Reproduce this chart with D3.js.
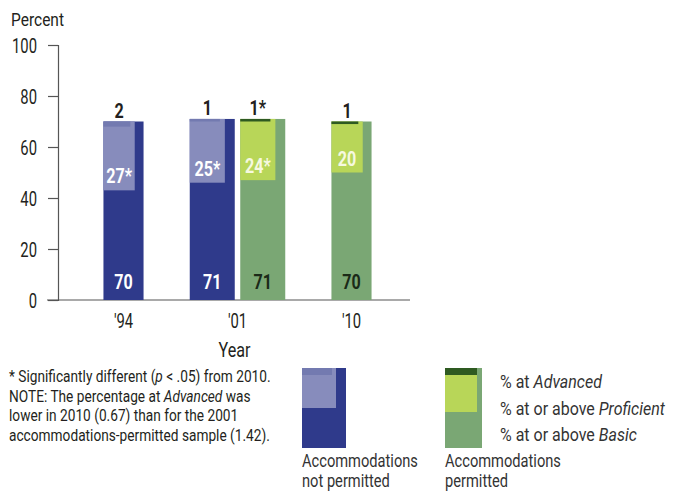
<!DOCTYPE html>
<html><head><meta charset="utf-8">
<script src="https://cdn.jsdelivr.net/npm/d3@7"></script>
<style>
html,body{margin:0;padding:0;background:#fff;}
text{font-family:"Roboto","Liberation Sans",sans-serif;fill:#231f20;}
</style></head>
<body><svg id="c" width="681" height="493"></svg>
<script>
const years = ["'94", "'01", "'10"];
// % at or above Basic
const basicNotPermitted = [70, 71, null];
const basicPermitted = [null, 71, 70];
// % at or above Proficient
const profNotPermitted = [27, 25, null];
const profPermitted = [null, 24, 20];
const profLabelNotPermitted = ["27*", "25*", null];
const profLabelPermitted = [null, "24*", "20"];
// % at Advanced
const advNotPermitted = [2, 1, null];
const advPermitted = [null, 1, 1];
const advLabelNotPermitted = ["2", "1", null];
const advLabelPermitted = [null, "1*", "1"];
const yTicks = [0, 20, 40, 60, 80, 100];

const colors = {
  notPermitted: {basic: "#2f3a8b", prof: "#878cbc", adv: "#737ab0", basicText: "#ffffff", profText: "#ffffff"},
  permitted: {basic: "#7aa774", prof: "#b8d658", adv: "#2e5a21", basicText: "#1b2a18", profText: "#f6f9e0"}
};

const data = years.map((yr, i) => {
  const s = [];
  if (basicNotPermitted[i] != null) s.push({key: "notPermitted", basic: basicNotPermitted[i], prof: profNotPermitted[i], adv: advNotPermitted[i], profLabel: profLabelNotPermitted[i], advLabel: advLabelNotPermitted[i]});
  if (basicPermitted[i] != null) s.push({key: "permitted", basic: basicPermitted[i], prof: profPermitted[i], adv: advPermitted[i], profLabel: profLabelPermitted[i], advLabel: advLabelPermitted[i]});
  return {year: yr, series: s};
});

const svg = d3.select("#c");

function measure(str, size, weight) {
  const t = svg.append("text").style("font-size", size + "px").style("font-weight", weight || "normal").text(str);
  const w = t.node().getComputedTextLength();
  t.remove();
  return w;
}
const fNote = 262 / measure("* Significantly different (p < .05) from 2010.", 16.5);
const fLeg = 167 / measure("% at or above Proficient", 18);
const fAcc = 116 / measure("Accommodations", 18);
const fTick = 25 / measure("100", 20);
const fBold = 18.5 / measure("70", 21, "bold");
const fPct = 53 / measure("Percent", 18);
const fYear = 32 / measure("Year", 20);

function txt(x, y, opts, parts, sx) {
  const g = svg.append("g").attr("transform", `translate(${x},${y}) scale(${sx},1)`);
  const t = g.append("text").attr("x", 0).attr("y", 0)
    .attr("text-anchor", opts.anchor || "start")
    .style("font-size", opts.size + "px")
    .style("font-weight", opts.weight || "normal")
    .style("fill", opts.fill || "#231f20");
  (typeof parts === "string" ? [{t: parts}] : parts).forEach(p =>
    t.append("tspan").text(p.t).style("font-style", p.i ? "italic" : "normal"));
  return t;
}

const y = d3.scaleLinear().domain([0, 100]).range([300, 45]);
const x0 = d3.scaleBand().domain(years).range([66.5, 408.5]).padding(0);
const barW = 45, gap = 5.5, profFrac = 0.78, advFrac = 0.67;

// y axis
const yAxis = d3.axisLeft(y).tickValues(yTicks).tickSize(10).tickSizeOuter(10).tickPadding(11);
const gy = svg.append("g").attr("transform", "translate(58,0)").call(yAxis);
gy.selectAll("path,line").attr("stroke", "#555").attr("stroke-width", 1.2);
gy.selectAll("text").style("font-size", "20px").style("fill", "#231f20").attr("dy", "0.36em")
  .attr("x", -21 / fTick).attr("transform", `scale(${fTick},1)`);

// baseline
svg.append("line").attr("x1", 47).attr("x2", 410).attr("y1", y(0)).attr("y2", y(0))
  .attr("stroke", "#555").attr("stroke-width", 1.2);

// x labels
const xAxis = d3.axisBottom(x0).tickSize(0).tickPadding(0);
const gx = svg.append("g").attr("transform", `translate(0,${y(0)})`).call(xAxis);
gx.select(".domain").remove();
gx.selectAll("text").style("font-size", "20px").style("fill", "#231f20").attr("dy", null).attr("y", 28)
  .attr("transform", `scale(${fTick},1)`);

txt(11, 26, {size: 18}, "Percent", fPct);
txt(x0("'01") + x0.bandwidth() / 2 - 3, 357, {size: 20, anchor: "middle"}, "Year", fYear);

// bars
data.forEach(d => {
  const n = d.series.length;
  const c = x0(d.year) + x0.bandwidth() / 2;
  const half = (n * barW + (n - 1) * gap) / 2;
  const x1 = d3.scaleBand().domain(d.series.map(s => s.key)).range([c - half, c + half]).paddingInner(gap / (barW + gap)).paddingOuter(0);
  d.series.forEach(s => {
    const col = colors[s.key];
    const bx = x1(s.key), bw = x1.bandwidth();
    const pw = bw * profFrac, aw = bw * advFrac;
    svg.append("rect").attr("x", bx).attr("y", y(s.basic)).attr("width", bw).attr("height", y(0) - y(s.basic)).attr("fill", col.basic);
    svg.append("rect").attr("x", bx).attr("y", y(s.basic)).attr("width", pw).attr("height", y(0) - y(s.prof)).attr("fill", col.prof);
    svg.append("rect").attr("x", bx).attr("y", y(s.basic)).attr("width", aw).attr("height", y(0) - y(s.adv)).attr("fill", col.adv);
    txt(bx + bw / 2, y(0) - 11, {size: 21, weight: "bold", anchor: "middle", fill: col.basicText}, String(s.basic), fBold);
    txt(bx + pw / 2, y(s.basic - s.prof) - 7, {size: 21, weight: "bold", anchor: "middle", fill: col.profText}, s.profLabel, fBold);
    txt(bx + pw / 2, y(s.basic) - 4, {size: 21, weight: "bold", anchor: "middle"}, s.advLabel, fBold);
  });
});

// footnotes
const notes = [
  [{t: "* Significantly different ("}, {t: "p", i: true}, {t: " < .05) from 2010."}],
  [{t: "NOTE: The percentage at "}, {t: "Advanced", i: true}, {t: " was"}],
  [{t: "lower in 2010 (0.67) than for the 2001"}],
  [{t: "accommodations-permitted sample (1.42)."}]
];
notes.forEach((line, i) => txt(9, 382 + i * 19.5, {size: 16.5}, line, fNote));

// legend
const legTop = 368, legBot = 448;
const leg = [
  {key: "notPermitted", x: 302, w: 44, pw: 34, aw: 30, advH: 7, profB: 408, l1: "Accommodations", l2: "not permitted"},
  {key: "permitted", x: 445, w: 37, pw: 32, aw: 32, advH: 7, profB: 412, l1: "Accommodations", l2: "permitted"}
];
leg.forEach(L => {
  const col = colors[L.key];
  svg.append("rect").attr("x", L.x).attr("y", legTop).attr("width", L.w).attr("height", legBot - legTop).attr("fill", col.basic);
  svg.append("rect").attr("x", L.x).attr("y", legTop).attr("width", L.pw).attr("height", L.profB - legTop).attr("fill", col.prof);
  svg.append("rect").attr("x", L.x).attr("y", legTop).attr("width", L.aw).attr("height", L.advH).attr("fill", col.adv);
  txt(L.x, 467, {size: 18, fill: "#333"}, L.l1, fAcc);
  txt(L.x, 487, {size: 18, fill: "#333"}, L.l2, fAcc);
});
const legText = [
  [{t: "% at "}, {t: "Advanced", i: true}],
  [{t: "% at or above "}, {t: "Proficient", i: true}],
  [{t: "% at or above "}, {t: "Basic", i: true}]
];
legText.forEach((line, i) => txt(500, 388 + i * 26.5, {size: 18, fill: "#333"}, line, fLeg));
</script></body></html>
